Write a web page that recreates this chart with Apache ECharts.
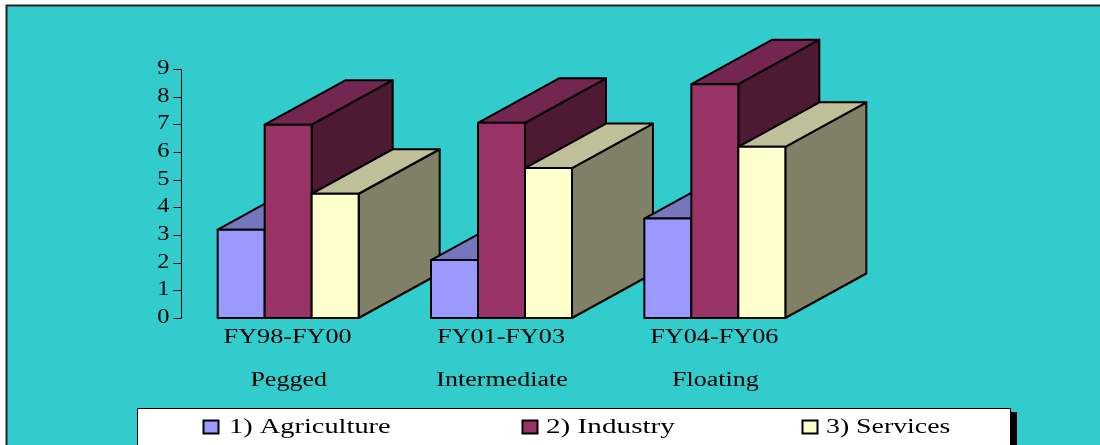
<!DOCTYPE html>
<html><head><meta charset="utf-8">
<style>html,body{margin:0;padding:0;background:#fff}#c{width:1100px;height:445px}</style>
<script src="https://cdn.jsdelivr.net/npm/echarts@6/dist/echarts.min.js"></script>
</head><body><div id="c"></div>
<script>
var periods = ['FY98-FY00','FY01-FY03','FY04-FY06'];
var regimes = ['Pegged','Intermediate','Floating'];
var seriesNames = ['1) Agriculture','2) Industry','3) Services'];
var agriculture = [3.2,2.1,3.6];
var industry = [7.0,7.07,8.47];
var services = [4.5,5.43,6.2];
var yTicks = [0,1,2,3,4,5,6,7,8,9];

var FONT = '20px "Liberation Serif"';
var front = ['#9999FF','#993366','#FFFFCC'];
var top3 = ['#7676BC','#732650','#BFBF99'];
var side = ['#4D4D80','#4D1933','#808066'];
var DX = 81, DY = -44.5;

function barRender(si){
  return function(params, api){
    var c = api.value(0), v = api.value(1);
    var t = api.coord([c, v]), b = api.coord([c, 0]);
    var w = api.size([1,0])[0] * 0.2203;
    var x0 = t[0] + (si - 1.5) * w, x1 = x0 + w;
    var z = c * 10 + si;
    var st = function(f){ return {fill:f, stroke:'#000', lineWidth:2, lineJoin:'round'}; };
    return {type:'group', children:[
      {type:'polygon', z2:z, shape:{points:[[x1,t[1]],[x1+DX,t[1]+DY],[x1+DX,b[1]+DY],[x1,b[1]]]}, style:st(side[si])},
      {type:'polygon', z2:z, shape:{points:[[x0,t[1]],[x0+DX,t[1]+DY],[x1+DX,t[1]+DY],[x1,t[1]]]}, style:st(top3[si])},
      {type:'rect', z2:z+0.5, shape:{x:x0,y:t[1],width:w,height:b[1]-t[1]}, style:st(front[si])}
    ]};
  };
}
function txt(s, x, y, sx, align){
  return {type:'text', x:x, y:y, scaleX:sx, z2:100,
    style:{text:s, font:FONT, fill:'#000', textAlign:align||'center', textVerticalAlign:'middle'}};
}
function xLabelRender(params, api){
  var i = api.value(0), p = api.coord([i,0]);
  return {type:'group', children:[
    txt(periods[i], p[0]-0.5, 338, 1.31),
    txt(regimes[i], p[0]+0.5, 380.5, 1.3)
  ]};
}
function yLabelRender(params, api){
  var p = api.coord([0, api.value(0)]);
  return txt(String(api.value(0)), 169.5, p[1]-0.5, 1.22, 'right');
}
var legendX = [203,522,802], legendTextX = [229,546,826], legendScale=[1.42,1.46,1.39];
var graphicEls = [
  {type:'rect', z:-1, shape:{x:6.5,y:5.5,width:1110,height:460}, style:{fill:'#33CCCC', stroke:'#222', lineWidth:2}, silent:true},
  {type:'rect', z:1, shape:{x:1010,y:412,width:7,height:40}, style:{fill:'#000'}, silent:true},
  {type:'rect', z:1, shape:{x:137.5,y:408.5,width:873,height:50}, style:{fill:'#fff', stroke:'#000', lineWidth:1}, silent:true}
];
seriesNames.forEach(function(n,i){
  graphicEls.push({type:'rect', z:2, shape:{x:legendX[i]+0.5,y:420.5,width:15,height:13}, style:{fill:front[i], stroke:'#000', lineWidth:2}, silent:true});
  graphicEls.push({type:'text', z:2, x:legendTextX[i], y:428, scaleX:legendScale[i], silent:true,
    style:{text:n, font:FONT, fill:'#000', textAlign:'left', textVerticalAlign:'middle'}});
});
var chart = echarts.init(document.getElementById('c'), null, {renderer:'canvas'});
var series = [agriculture,industry,services].map(function(vals,si){
  return {type:'custom', name:seriesNames[si], renderItem:barRender(si), clip:false,
    encode:{x:0,y:1}, data:vals.map(function(v,i){return [i,v];})};
});
series.push({type:'custom', renderItem:xLabelRender, clip:false, silent:true, encode:{x:0}, data:periods.map(function(p,i){return [i];})});
series.push({type:'custom', renderItem:yLabelRender, clip:false, silent:true, encode:{y:0}, data:yTicks.map(function(t){return [t];})});
chart.setOption({
  animation:false,
  backgroundColor:'#fff',
  graphic:{elements:graphicEls},
  grid:{left:181.5,width:640,top:69.5,height:248.5},
  xAxis:{type:'category',data:periods,axisLine:{show:false},axisTick:{show:false},axisLabel:{show:false},splitLine:{show:false}},
  yAxis:{type:'value',min:0,max:9,interval:1,axisLine:{show:true,lineStyle:{color:'#000',width:1}},
    axisTick:{show:true,length:8,lineStyle:{color:'#000',width:1}},axisLabel:{show:false},splitLine:{show:false}},
  series:series
});
</script></body></html>
